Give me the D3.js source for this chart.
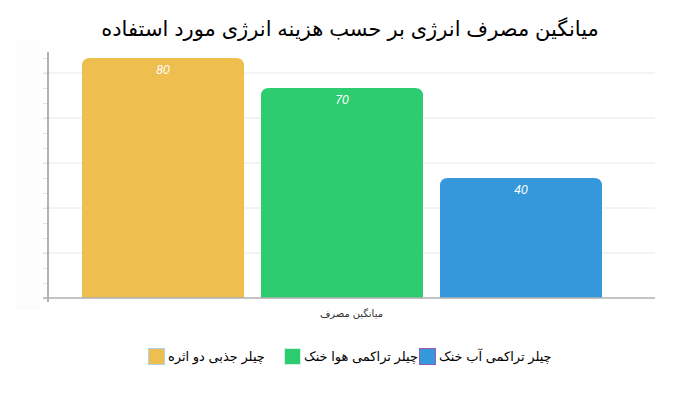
<!DOCTYPE html>
<html>
<head>
<meta charset="utf-8">
<script src="https://cdn.jsdelivr.net/npm/d3@7"></script>
<style>
  html, body { margin: 0; padding: 0; background: #fff; }
  svg { display: block; font-family: "Liberation Sans", "DejaVu Sans", Arial, sans-serif; }
</style>
</head>
<body>
<svg id="chart" width="700" height="400"></svg>
<script>
const title = "میانگین مصرف انرژی بر حسب هزینه انرژی مورد استفاده";
const categories = ["میانگین مصرف"];
const seriesNames = ["چیلر جذبی دو اثره", "چیلر تراکمی هوا خنک", "چیلر تراکمی آب خنک"];
const seriesValues = [80, 70, 40];
const seriesColors = ["#eebe4f", "#2ecc71", "#3498db"];
const swatchBorders = ["#a9d4f0", "#d5f2e0", "#9b59b6"];
const yMax = 82;
const yMinorStep = 5;
const yGridStep = 15;

const svg = d3.select("#chart");
const plot = { left: 48, right: 655, top: 52, bottom: 298 };

// faint left band
svg.append("rect").attr("x", 16).attr("y", 40).attr("width", 24).attr("height", 270)
  .attr("fill", "#fcfcfc");

// title
svg.append("text")
  .attr("x", 350).attr("y", 36)
  .attr("text-anchor", "middle")
  .attr("direction", "rtl")
  .attr("font-size", 21)
  .attr("fill", "#000")
  .text(title);

const y = d3.scaleLinear().domain([0, yMax]).range([plot.bottom, plot.top]);

// gridlines
const gridVals = d3.range(yGridStep, yMax, yGridStep);
svg.append("g").selectAll("line").data(gridVals).join("line")
  .attr("x1", plot.left - 5).attr("x2", plot.right)
  .attr("y1", d => y(d)).attr("y2", d => y(d))
  .attr("stroke", "#e8e8e8").attr("stroke-width", 1);

// y axis with minor ticks (labels invisible)
const yAxis = d3.axisLeft(y)
  .tickValues(d3.range(0, yMax, yMinorStep))
  .tickSize(5)
  .tickFormat("");
const gy = svg.append("g").attr("transform", `translate(${plot.left},0)`).call(yAxis);
gy.select(".domain").remove();
gy.selectAll(".tick line").attr("stroke", "#e2e2e2");
svg.append("line")
  .attr("x1", plot.left).attr("x2", plot.left)
  .attr("y1", plot.top).attr("y2", plot.bottom + 4)
  .attr("stroke", "#999").attr("stroke-width", 1.5);

// x scales
const x0 = d3.scaleBand().domain(categories).range([plot.left, plot.right]);
const x1 = d3.scaleBand().domain(seriesNames).range([82, 602]).paddingInner(0.095).paddingOuter(0);

const rows = seriesNames.map((s, i) => ({ name: s, value: seriesValues[i], color: seriesColors[i] }));

function topRounded(x, yt, w, h, r) {
  r = Math.min(r, w / 2, h);
  return `M${x},${yt + h}V${yt + r}Q${x},${yt} ${x + r},${yt}H${x + w - r}Q${x + w},${yt} ${x + w},${yt + r}V${yt + h}Z`;
}

const bars = svg.append("g");
bars.selectAll("path").data(rows).join("path")
  .attr("d", d => topRounded(x1(d.name), y(d.value), x1.bandwidth(), y(0) - y(d.value), 8))
  .attr("fill", d => d.color);

bars.selectAll("text").data(rows).join("text")
  .attr("x", d => x1(d.name) + x1.bandwidth() / 2)
  .attr("y", d => y(d.value) + 16)
  .attr("text-anchor", "middle")
  .attr("font-size", 12)
  .attr("font-style", "italic")
  .attr("fill", "#fff")
  .text(d => d.value);

// baseline
svg.append("line")
  .attr("x1", plot.left - 5).attr("x2", plot.right)
  .attr("y1", plot.bottom).attr("y2", plot.bottom)
  .attr("stroke", "#b0b0b0").attr("stroke-width", 1.5);

// x category label
svg.append("g").selectAll("text").data(categories).join("text")
  .attr("x", d => x0(d) + x0.bandwidth() / 2)
  .attr("y", 317)
  .attr("text-anchor", "middle")
  .attr("direction", "rtl")
  .attr("font-size", 10)
  .attr("fill", "#333")
  .text(d => d);

// legend
const legendX = [148, 284, 419];
const lg = svg.append("g").selectAll("g").data(rows).join("g")
  .attr("transform", (d, i) => `translate(${legendX[i]},348)`);
lg.append("rect")
  .attr("x", 0.5).attr("y", 0.5).attr("width", 16).attr("height", 16)
  .attr("fill", d => d.color)
  .attr("stroke", (d, i) => swatchBorders[i]).attr("stroke-width", 1);
lg.append("text")
  .attr("x", 20).attr("y", 13)
  .attr("font-size", 13)
  .attr("fill", "#000")
  .text(d => d.name);
</script>
</body>
</html>
